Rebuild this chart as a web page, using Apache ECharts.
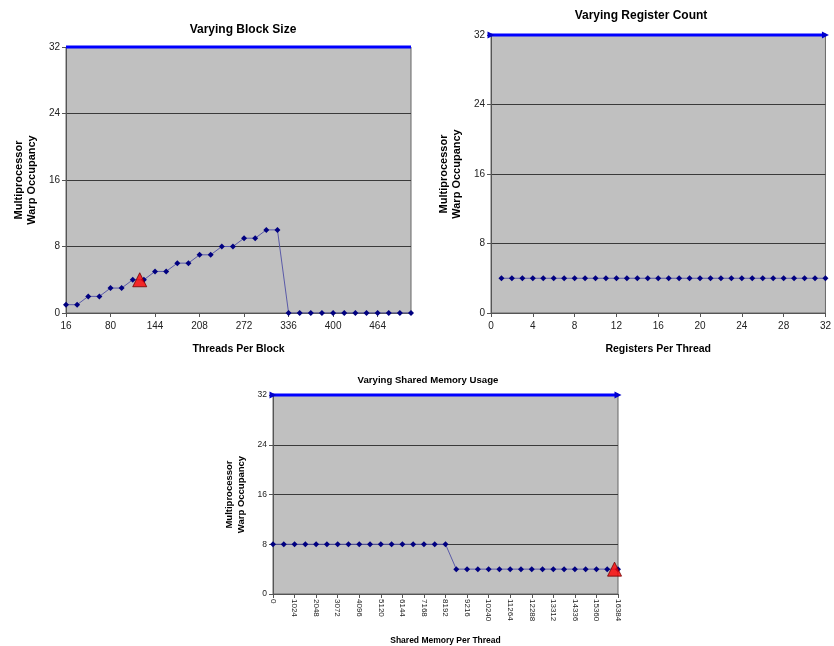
<!DOCTYPE html>
<html>
<head>
<meta charset="utf-8">
<script src="https://cdn.jsdelivr.net/npm/echarts@6/dist/echarts.min.js"></script>
<style>
  html, body { margin: 0; padding: 0; background: #fff; }
  #main { width: 834px; height: 646px; }
</style>
</head>
<body>
<div id="main"></div>
<script>
// chart 1: varying block size
const threadsPerBlock = [16, 32, 48, 64, 80, 96, 112, 128, 144, 160, 176, 192, 208, 224, 240, 256,
  272, 288, 304, 320, 336, 352, 368, 384, 400, 416, 432, 448, 464, 480, 496, 512];
const blockOccupancy = [1, 1, 2, 2, 3, 3, 4, 4, 5, 5, 6, 6, 7, 7, 8, 8,
  9, 9, 10, 10, 0, 0, 0, 0, 0, 0, 0, 0, 0, 0, 0, 0];
const blockCurrent = [122, 4];

// chart 2: varying register count
const registersPerThread = [1, 2, 3, 4, 5, 6, 7, 8, 9, 10, 11, 12, 13, 14, 15, 16,
  17, 18, 19, 20, 21, 22, 23, 24, 25, 26, 27, 28, 29, 30, 31, 32];
const registerOccupancy = [4, 4, 4, 4, 4, 4, 4, 4, 4, 4, 4, 4, 4, 4, 4, 4,
  4, 4, 4, 4, 4, 4, 4, 4, 4, 4, 4, 4, 4, 4, 4, 4];

// chart 3: varying shared memory usage
const sharedMemory = [0, 512, 1024, 1536, 2048, 2560, 3072, 3584, 4096, 4608, 5120, 5632, 6144,
  6656, 7168, 7680, 8192, 8704, 9216, 9728, 10240, 10752, 11264, 11776, 12288, 12800, 13312,
  13824, 14336, 14848, 15360, 15872, 16384];
const sharedOccupancy = [8, 8, 8, 8, 8, 8, 8, 8, 8, 8, 8, 8, 8, 8, 8, 8, 8,
  4, 4, 4, 4, 4, 4, 4, 4, 4, 4, 4, 4, 4, 4, 4, 4];
const sharedCurrent = [16220, 4];

const maxWarps = 32;
const yTicks = [0, 8, 16, 24, 32];

const FONT = 'Liberation Sans';

function pairs(xs, ys) {
  return xs.map(function (x, i) { return [x, ys[i]]; });
}

function makeYAxis(gridIndex, nameGap, nameSize, labelSize) {
  return {
    gridIndex: gridIndex,
    type: 'value',
    min: yTicks[0],
    max: yTicks[yTicks.length - 1],
    interval: yTicks[1] - yTicks[0],
    name: 'Multiprocessor\nWarp Occupancy',
    nameLocation: 'middle',
    nameRotate: 90,
    nameGap: nameGap,
    nameTextStyle: { fontFamily: FONT, fontWeight: 'bold', fontSize: nameSize, color: '#000',
      lineHeight: nameSize + 2 },
    axisLine: { show: true, lineStyle: { color: '#555', width: 1 } },
    axisTick: { show: true, inside: false, length: 4, lineStyle: { color: '#555' } },
    axisLabel: { fontFamily: FONT, fontSize: labelSize, color: '#222', margin: 6 },
    splitLine: { show: true, lineStyle: { color: '#3a3a3a', width: 1 } }
  };
}

function makeXAxis(gridIndex, min, max, interval, name, nameGap, nameSize, labelStyle) {
  return {
    gridIndex: gridIndex,
    type: 'value',
    min: min,
    max: max,
    interval: interval,
    name: name,
    nameLocation: 'middle',
    nameGap: nameGap,
    nameTextStyle: { fontFamily: FONT, fontWeight: 'bold', fontSize: nameSize, color: '#000' },
    axisLine: { show: true, onZero: false, lineStyle: { color: '#555', width: 1 } },
    axisTick: { show: true, inside: false, length: 4, lineStyle: { color: '#555' } },
    axisLabel: Object.assign({ fontFamily: FONT, color: '#222',
      formatter: function (v) { return String(v); } }, labelStyle),
    splitLine: { show: false }
  };
}

function dataSeries(idx, xs, ys) {
  return {
    type: 'line',
    xAxisIndex: idx,
    yAxisIndex: idx,
    data: pairs(xs, ys),
    symbol: 'diamond',
    symbolSize: 6,
    itemStyle: { color: '#000080' },
    lineStyle: { color: '#5a5aa8', width: 1 },
    animation: false,
    z: 3
  };
}

function maxSeries(idx, xMin, xMax, arrows) {
  return {
    type: 'line',
    xAxisIndex: idx,
    yAxisIndex: idx,
    data: [[xMin, maxWarps], [xMax, maxWarps]],
    symbol: arrows ? 'triangle' : 'none',
    symbolRotate: -90,
    symbolSize: 7,
    itemStyle: { color: '#0000cc' },
    lineStyle: { color: '#0000ff', width: 3 },
    clip: false,
    animation: false,
    z: 4
  };
}

function currentSeries(idx, pt) {
  return {
    type: 'scatter',
    xAxisIndex: idx,
    yAxisIndex: idx,
    data: [pt],
    symbol: 'triangle',
    symbolSize: 14,
    itemStyle: { color: '#ff0000', borderColor: '#700000', borderWidth: 1 },
    animation: false,
    z: 5
  };
}

const gridBase = {
  show: true,
  backgroundColor: '#c0c0c0',
  borderColor: '#666',
  borderWidth: 1,
  containLabel: false
};

const chart = echarts.init(document.getElementById('main'), null, { renderer: 'canvas' });

chart.setOption({
  backgroundColor: '#fff',
  animation: false,
  title: [
    { text: 'Varying Block Size', left: 238, top: 19, textAlign: 'center',
      textStyle: { fontFamily: FONT, fontWeight: 'bold', fontSize: 12, color: '#000' } },
    { text: 'Varying Register Count', left: 636, top: 5, textAlign: 'center',
      textStyle: { fontFamily: FONT, fontWeight: 'bold', fontSize: 12, color: '#000' } },
    { text: 'Varying Shared Memory Usage', left: 423, top: 370, textAlign: 'center',
      textStyle: { fontFamily: FONT, fontWeight: 'bold', fontSize: 9.6, color: '#000' } }
  ],
  grid: [
    Object.assign({ left: 66, top: 47, width: 345, height: 266 }, gridBase),
    Object.assign({ left: 491, top: 35, width: 340, height: 278 }, gridBase),
    Object.assign({ left: 273, top: 395, width: 345, height: 199 }, gridBase)
  ],
  xAxis: [
    makeXAxis(0, threadsPerBlock[0], threadsPerBlock[threadsPerBlock.length - 1], 64,
      'Threads Per Block', 31, 10.5, { fontSize: 10, margin: 8, showMaxLabel: false }),
    makeXAxis(1, 0, 32, 4, 'Registers Per Thread', 31, 10.5, { fontSize: 10, margin: 8 }),
    makeXAxis(2, 0, 16384, 1024, 'Shared Memory Per Thread', 42, 8.5,
      { fontSize: 8, margin: 5, rotate: -90 })
  ],
  yAxis: [
    makeYAxis(0, 28, 11, 10),
    makeYAxis(1, 28, 11, 10),
    makeYAxis(2, 26, 9.5, 8.5)
  ],
  series: [
    maxSeries(0, threadsPerBlock[0], threadsPerBlock[threadsPerBlock.length - 1], false),
    dataSeries(0, threadsPerBlock, blockOccupancy),
    currentSeries(0, blockCurrent),
    maxSeries(1, 0, 32, true),
    dataSeries(1, registersPerThread, registerOccupancy),
    maxSeries(2, 0, 16384, true),
    dataSeries(2, sharedMemory, sharedOccupancy),
    currentSeries(2, sharedCurrent)
  ]
});

window.addEventListener('resize', function () {
  chart.resize();
});
</script>
</body>
</html>
